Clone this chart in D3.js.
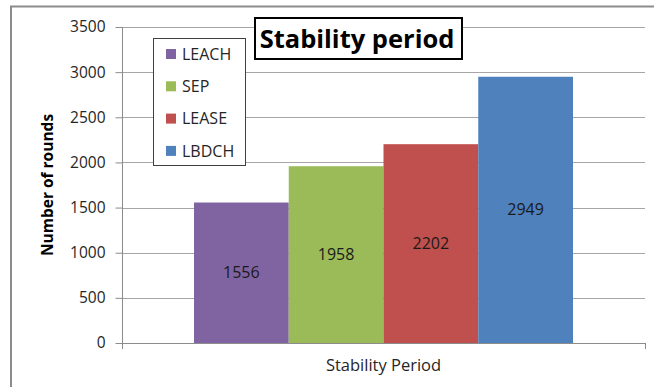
<!DOCTYPE html>
<html>
<head>
<meta charset="utf-8">
<script src="https://cdn.jsdelivr.net/npm/d3@7"></script>
<style>
  html, body { margin: 0; padding: 0; background: #fff; }
  svg { display: block; }
  text { font-family: "Open Sans", Lato, "Liberation Sans", sans-serif; }
</style>
</head>
<body>
<svg id="chart" width="654" height="387"></svg>
<script>
// Stability period per protocol
const protocols = ["LEACH", "SEP", "LEASE", "LBDCH"];
const rounds = [1556, 1958, 2202, 2949];
const colors = ["#8064A2", "#9BBB59", "#C0504D", "#4F81BD"];
const yTicks = [0, 500, 1000, 1500, 2000, 2500, 3000, 3500];
const category = "Stability Period";

const svg = d3.select("#chart");

// outer chart frame (runs off the right and bottom edges)
svg.append("rect")
  .attr("x", 11).attr("y", 6.5)
  .attr("width", 700).attr("height", 420)
  .attr("fill", "#fff")
  .attr("stroke", "#8c8c8c").attr("stroke-width", 2);

const plot = { left: 122, right: 645, top: 27, bottom: 343 };

const y = d3.scaleLinear().domain([0, 3500]).range([plot.bottom, plot.top]);
const xCat = d3.scaleBand().domain([category]).range([plot.left, plot.right]).paddingInner(0).paddingOuter(0.19);
const xSeries = d3.scaleBand().domain(protocols).range([0, xCat.bandwidth()]).padding(0);

// gridlines
svg.append("g")
  .selectAll("line")
  .data(yTicks.filter(d => d > 0))
  .join("line")
  .attr("x1", plot.left).attr("x2", plot.right)
  .attr("y1", d => Math.round(y(d)) + 0.5).attr("y2", d => Math.round(y(d)) + 0.5)
  .attr("stroke", "#a6a6a6").attr("stroke-width", 1);

// y axis
const yAxis = d3.axisLeft(y).tickValues(yTicks).tickFormat(d3.format("d")).tickSize(7).tickPadding(10);
const gy = svg.append("g")
  .attr("transform", `translate(${plot.left + 0.5},0)`)
  .call(yAxis);
gy.select(".domain").attr("stroke", "#8c8c8c").attr("d", `M-0,${plot.top}V${plot.bottom + 6}`);
gy.selectAll(".tick line").attr("stroke", "#8c8c8c");
gy.selectAll(".tick text")
  .attr("fill", "#262626")
  .style("font-size", "15.5px")
  .style("font-family", "'Open Sans', Lato, sans-serif");

// x axis
const xAxis = d3.axisBottom(xCat).tickSize(0).tickFormat(() => "");
const gx = svg.append("g")
  .attr("transform", `translate(0,${Math.round(plot.bottom) + 0.5})`)
  .call(xAxis);
gx.select(".domain").attr("stroke", "#8c8c8c").attr("d", `M${plot.left},0H${plot.right}`);
svg.append("line")
  .attr("x1", plot.right + 0.5).attr("x2", plot.right + 0.5)
  .attr("y1", plot.bottom).attr("y2", plot.bottom + 6)
  .attr("stroke", "#8c8c8c");

// bars
const bars = svg.append("g").attr("transform", `translate(${xCat(category)},0)`);
bars.selectAll("rect")
  .data(protocols)
  .join("rect")
  .attr("x", d => xSeries(d))
  .attr("y", (d, i) => y(rounds[i]))
  .attr("width", xSeries.bandwidth())
  .attr("height", (d, i) => y(0) - y(rounds[i]))
  .attr("fill", (d, i) => colors[i]);

// value labels centered inside bars
bars.selectAll("text.value")
  .data(protocols)
  .join("text")
  .attr("class", "value")
  .attr("x", d => xSeries(d) + xSeries.bandwidth() / 2)
  .attr("y", (d, i) => (y(rounds[i]) + y(0)) / 2)
  .attr("dy", "0.35em")
  .attr("text-anchor", "middle")
  .attr("fill", "#1a1a1a")
  .style("font-size", "16px")
  .text((d, i) => rounds[i]);

// category label
svg.append("text")
  .attr("x", (plot.left + plot.right) / 2)
  .attr("y", 371)
  .attr("text-anchor", "middle")
  .attr("fill", "#262626")
  .style("font-size", "16.5px")
  .text(category);

// y axis title
svg.append("text")
  .attr("transform", `translate(53,185) rotate(-90)`)
  .attr("text-anchor", "middle")
  .attr("fill", "#000")
  .style("font-size", "15.5px")
  .style("font-weight", "bold")
  .text("Number of rounds");

// legend
const legend = svg.append("g");
legend.append("rect")
  .attr("x", 153.5).attr("y", 38.5)
  .attr("width", 92).attr("height", 127)
  .attr("fill", "#fff").attr("stroke", "#404040").attr("stroke-width", 1);
const items = legend.selectAll("g.item")
  .data(protocols)
  .join("g")
  .attr("class", "item")
  .attr("transform", (d, i) => `translate(166,${54 + i * 32.3})`);
items.append("rect")
  .attr("x", 0).attr("y", -5)
  .attr("width", 10).attr("height", 10)
  .attr("fill", (d, i) => colors[i]);
items.append("text")
  .attr("x", 16).attr("y", 0)
  .attr("dy", "0.36em")
  .attr("fill", "#262626")
  .style("font-size", "16px")
  .text(d => d);

// title box
svg.append("rect")
  .attr("x", 255).attr("y", 18)
  .attr("width", 207).attr("height", 41)
  .attr("fill", "#fff").attr("stroke", "#000").attr("stroke-width", 2);
svg.append("text")
  .attr("x", 357).attr("y", 48)
  .attr("text-anchor", "middle")
  .attr("fill", "#000")
  .style("font-size", "25.5px")
  .style("font-weight", "bold")
  .text("Stability period");
</script>
</body>
</html>
